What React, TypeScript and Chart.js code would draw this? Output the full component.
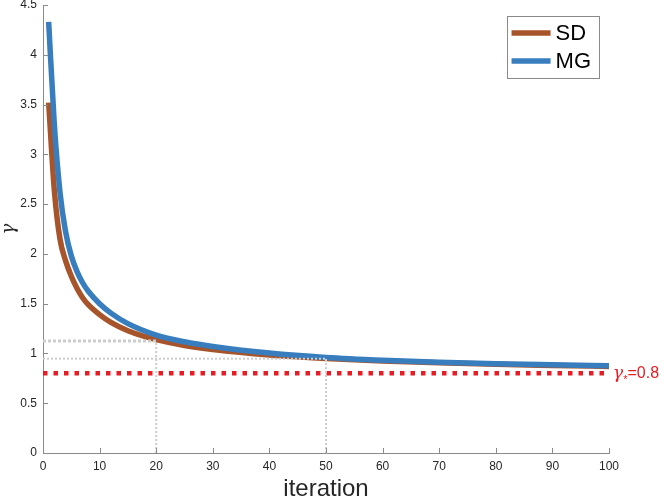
import React, { useEffect, useRef } from "react";
import { Chart, registerables } from "chart.js";

Chart.register(...registerables);

// ---------- data ----------
const iterations = [1, 2, 3, 4, 5, 6, 7, 8, 10, 12, 15, 20, 25, 30, 40, 50, 60, 70, 80, 90, 100];
const sdValues = [3.52, 2.64, 2.15, 1.93, 1.775, 1.655, 1.56, 1.49, 1.39, 1.312, 1.228, 1.138, 1.08, 1.04, 0.985, 0.95, 0.925, 0.906, 0.891, 0.88, 0.87];
const mgValues = [4.33, 3.3, 2.62, 2.22, 1.98, 1.825, 1.71, 1.625, 1.5, 1.405, 1.3, 1.185, 1.117, 1.07, 1.004, 0.96, 0.932, 0.912, 0.897, 0.886, 0.876];
const seriesLabels = ["SD", "MG"];
const xTicks = [0, 10, 20, 30, 40, 50, 60, 70, 80, 90, 100];
const yTicks = [0, 0.5, 1, 1.5, 2, 2.5, 3, 3.5, 4, 4.5];
const gammaStar = 0.8;
const guideIters = [20, 50];
const guideValues = [1.125, 0.947];
const xTitle = "iteration";
const yTitle = "γ";
const starLabelParts = ["γ", "*", "=0.8"];

// ---------- styles ----------
const FONT = "'Liberation Sans', Arial, Helvetica, sans-serif";
const SD_COLOR = "rgb(168,84,42)";
const MG_COLOR = "rgb(56,126,190)";
const RED = "rgb(232,28,36)";
const GUIDE = "rgb(205,205,205)";
const AXIS = "#8a8a8a";
const TEXT = "#262626";

const pts = (xs: number[], ys: number[]) => xs.map((x, i) => ({ x, y: ys[i] }));

const inwardTicks = {
  id: "inwardTicks",
  afterDraw(chart: any) {
    const { ctx, chartArea, scales } = chart;
    const xs = scales.x;
    const ys = scales.y;
    ctx.save();
    ctx.strokeStyle = AXIS;
    ctx.lineWidth = 1;
    ctx.beginPath();
    xs.ticks.forEach((t: any) => {
      const px = Math.round(xs.getPixelForValue(t.value)) + 0.5;
      ctx.moveTo(px, chartArea.bottom);
      ctx.lineTo(px, chartArea.bottom - 5);
    });
    ys.ticks.forEach((t: any) => {
      const py = Math.round(ys.getPixelForValue(t.value)) + 0.5;
      ctx.moveTo(chartArea.left, py);
      ctx.lineTo(chartArea.left + 5, py);
    });
    ctx.stroke();
    ctx.restore();
  },
};

const boxLegend = {
  id: "boxLegend",
  afterDraw(chart: any) {
    const { ctx, chartArea } = chart;
    const items = chart.data.datasets.filter((d: any) => seriesLabels.includes(d.label));
    items.sort((a: any, b: any) => seriesLabels.indexOf(a.label) - seriesLabels.indexOf(b.label));
    ctx.save();
    ctx.font = `22px ${FONT}`;
    const textW = Math.max(...items.map((d: any) => ctx.measureText(d.label).width));
    const lineLen = 39;
    const w = 5 + lineLen + 5 + textW + 8;
    const rowH = 28;
    const h = 62;
    const right = chartArea.right - 10;
    const left = right - w;
    const top = chartArea.top + 11;
    ctx.fillStyle = "#fff";
    ctx.fillRect(left, top, w, h);
    ctx.strokeStyle = AXIS;
    ctx.lineWidth = 1;
    ctx.strokeRect(Math.round(left) + 0.5, Math.round(top) + 0.5, Math.round(w), Math.round(h));
    items.forEach((d: any, i: number) => {
      const cy = top + 17 + i * rowH;
      ctx.strokeStyle = d.borderColor;
      ctx.lineWidth = 5.5;
      ctx.beginPath();
      ctx.moveTo(left + 5, cy);
      ctx.lineTo(left + 5 + lineLen, cy);
      ctx.stroke();
      ctx.fillStyle = "#000";
      ctx.textBaseline = "middle";
      ctx.textAlign = "left";
      ctx.fillText(d.label, left + 5 + lineLen + 5, cy + 1);
    });
    ctx.restore();
  },
};

const starText = {
  id: "starText",
  afterDraw(chart: any) {
    const { ctx, scales } = chart;
    const x0 = scales.x.getPixelForValue(100) + 4;
    const y0 = scales.y.getPixelForValue(gammaStar);
    ctx.save();
    ctx.fillStyle = RED;
    ctx.textAlign = "left";
    ctx.textBaseline = "alphabetic";
    ctx.font = `italic 17px 'DejaVu Serif', serif`;
    const base = y0 + 5;
    ctx.fillText(starLabelParts[0], x0, base);
    let x = x0 + ctx.measureText(starLabelParts[0]).width;
    ctx.font = `11px ${FONT}`;
    ctx.fillText(starLabelParts[1], x, base + 5);
    x += ctx.measureText(starLabelParts[1]).width;
    ctx.font = `16px ${FONT}`;
    ctx.fillText(starLabelParts[2], x, base);
    ctx.restore();
  },
};

export default function App() {
  const ref = useRef<HTMLCanvasElement>(null);

  useEffect(() => {
    const guide = (data: { x: number; y: number }[], width: number, dash: number[]) => ({
      label: "guide",
      data,
      borderColor: GUIDE,
      borderWidth: width,
      borderDash: dash,
      pointRadius: 0,
      order: 0,
    });

    const chart = new Chart(ref.current as HTMLCanvasElement, {
      type: "line",
      data: {
        datasets: [
          guide([{ x: 0, y: guideValues[0] }, { x: guideIters[0], y: guideValues[0] }], 3, [3, 2]),
          guide([{ x: guideIters[0], y: 0 }, { x: guideIters[0], y: guideValues[0] }], 2, [2, 2]),
          guide([{ x: 0, y: guideValues[1] }, { x: guideIters[1], y: guideValues[1] }], 2, [2, 2]),
          guide([{ x: guideIters[1], y: 0 }, { x: guideIters[1], y: guideValues[1] }], 2, [2, 2]),
          {
            label: "gammaStar",
            data: [{ x: 0, y: gammaStar }, { x: 100, y: gammaStar }],
            borderColor: RED,
            borderWidth: 4.5,
            borderDash: [4.5, 6],
            pointRadius: 0,
            order: 1,
          },
          {
            label: seriesLabels[1],
            data: pts(iterations, mgValues),
            borderColor: MG_COLOR,
            borderWidth: 5.5,
            pointRadius: 0,
            cubicInterpolationMode: "monotone",
            order: 2,
          },
          {
            label: seriesLabels[0],
            data: pts(iterations, sdValues),
            borderColor: SD_COLOR,
            borderWidth: 5.5,
            pointRadius: 0,
            cubicInterpolationMode: "monotone",
            order: 3,
          },
        ] as any,
      },
      options: {
        responsive: false,
        animation: false,
        events: [],
        layout: { padding: { top: 5, right: 55, left: 0, bottom: 0 } },
        plugins: { legend: { display: false }, tooltip: { enabled: false } },
        scales: {
          x: {
            type: "linear",
            min: 0,
            max: 100,
            afterBuildTicks: (s: any) => {
              s.ticks = xTicks.map((v) => ({ value: v }));
            },
            afterFit: (s: any) => {
              s.height = 47;
              s.paddingLeft = 0;
              s.paddingRight = 0;
            },
            grid: { display: false, drawTicks: false },
            border: { display: true, color: AXIS, width: 1 },
            ticks: {
              autoSkip: false,
              maxRotation: 0,
              padding: 6,
              color: TEXT,
              font: { family: FONT, size: 12 },
              callback: (v: any) => String(v),
            },
            title: {
              display: true,
              text: xTitle,
              color: TEXT,
              font: { family: FONT, size: 24 },
              padding: { top: 0, bottom: -4 },
            },
          },
          y: {
            type: "linear",
            min: 0,
            max: 4.5,
            afterBuildTicks: (s: any) => {
              s.ticks = yTicks.map((v) => ({ value: v }));
            },
            afterFit: (s: any) => {
              s.width = 43;
              s.paddingTop = 0;
              s.paddingBottom = 0;
            },
            grid: { display: false, drawTicks: false },
            border: { display: true, color: AXIS, width: 1 },
            ticks: {
              autoSkip: false,
              padding: 6,
              color: TEXT,
              font: { family: FONT, size: 12 },
              callback: (v: any) => String(v),
            },
            title: {
              display: true,
              text: yTitle,
              color: TEXT,
              font: { family: "'DejaVu Serif', serif", size: 18, style: "italic" },
              padding: { top: -1, bottom: 0 },
            },
          },
        },
      },
      plugins: [inwardTicks, starText, boxLegend],
    } as any);
    return () => chart.destroy();
  }, []);

  return (
    <div style={{ position: "absolute", left: 0, top: 0, width: 664, height: 500, background: "#fff" }}>
      <canvas ref={ref} width={664} height={500} style={{ display: "block", width: 664, height: 500 }} />
    </div>
  );
}
